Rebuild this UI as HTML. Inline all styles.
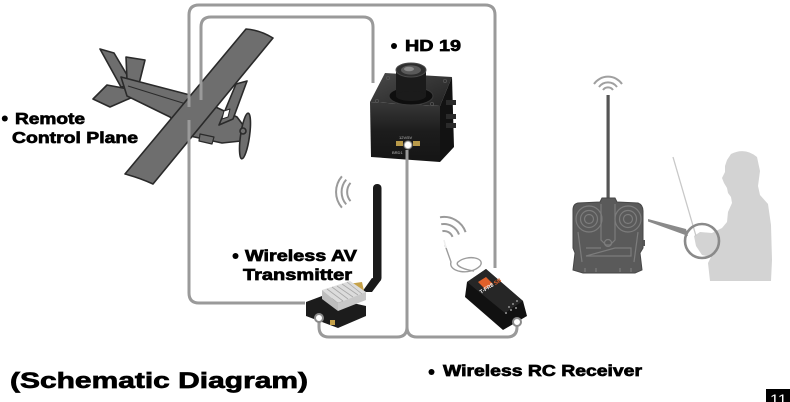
<!DOCTYPE html>
<html><head><meta charset="utf-8"><style>
html,body{margin:0;padding:0;background:#fff;}
svg{display:block;}
.t{font-family:"Liberation Sans",Arial,sans-serif;font-weight:bold;fill:#000;stroke:#000;stroke-width:0.7;}
</style></head><body>
<svg width="790" height="402" viewBox="0 0 790 402" xmlns="http://www.w3.org/2000/svg">
<rect width="790" height="402" fill="#fff"/>

<!-- ===== Plane ===== -->
<g stroke="#2a2a2a" stroke-width="1.6" stroke-linejoin="round" fill="#6e6e6e">
  <polygon points="93,99 107,85 128,89 133,97 110,107"/>
  <polygon points="100,49 114,53 133,85 121,87"/>
  <polygon points="126,57 145,60 139,84 127,80"/>
  <polygon points="121,77 190,95 237,117 243,125 241,141 222,143 190,136 170,117 127,96"/>
  <line x1="128" y1="86" x2="186" y2="104" stroke-width="1"/>
  <polygon points="236,84 247,81 233,119 219,125"/>
  <polygon points="224,111 230,109 228,117 222,119" fill="#fff" stroke-width="1"/>
  <polygon points="200,134 214,137 212,144 199,141" stroke-width="1.2"/>
  <path d="M246,29 Q260,30 273,38 L153,184 Q140,178 125,174 Z"/>
  <ellipse cx="245" cy="136" rx="4.5" ry="23" transform="rotate(8 245 136)"/>
  <circle cx="243" cy="131" r="3"/>
</g>

<!-- ===== Camera HD 19 ===== -->
<defs>
  <linearGradient id="cf" x1="0" y1="0" x2="0" y2="1">
    <stop offset="0" stop-color="#383838"/><stop offset="0.5" stop-color="#1c1c1c"/><stop offset="1" stop-color="#151515"/>
  </linearGradient>
  <linearGradient id="ct" x1="0" y1="0" x2="1" y2="1">
    <stop offset="0" stop-color="#4a4a4a"/><stop offset="1" stop-color="#222"/>
  </linearGradient>
  <radialGradient id="glow"><stop offset="0" stop-color="#fff"/><stop offset="0.55" stop-color="#fff"/><stop offset="1" stop-color="#fff" stop-opacity="0"/></radialGradient>
</defs>
<polygon points="370,102 385,73 452,77 440,106" fill="url(#ct)"/>
<polygon points="370,102 440,106 440,162 371,157" fill="url(#cf)"/>
<polygon points="440,106 452,77 454,147 440,162" fill="#121212"/>
<rect x="446" y="100" width="10" height="5" fill="#2a2a2a"/>
<rect x="446" y="114" width="10" height="5" fill="#2a2a2a"/>
<rect x="446" y="123" width="10" height="5" fill="#2a2a2a"/>
<circle cx="388" cy="78" r="1.6" fill="none" stroke="#555" stroke-width="0.8"/>
<circle cx="445" cy="81" r="1.6" fill="none" stroke="#555" stroke-width="0.8"/>
<circle cx="377" cy="101" r="1.6" fill="none" stroke="#555" stroke-width="0.8"/>
<circle cx="432" cy="104" r="1.6" fill="none" stroke="#555" stroke-width="0.8"/>
<ellipse cx="411" cy="96" rx="22" ry="9" fill="#0e0e0e" stroke="#3a3a3a" stroke-width="1"/>
<rect x="396" y="70" width="30" height="26" fill="#1b1b1b"/>
<ellipse cx="411" cy="96" rx="15" ry="5" fill="#1b1b1b"/>
<ellipse cx="411" cy="70" rx="15" ry="7" fill="#2e2e2e" stroke="#4a4a4a" stroke-width="1"/>
<ellipse cx="411" cy="70" rx="10" ry="4.6" fill="#5a5a5a"/>
<ellipse cx="409" cy="69" rx="5" ry="2.3" fill="#8a8a8a"/>
<rect x="396" y="141" width="7" height="5" fill="#b99a4a"/>
<rect x="413" y="141" width="7" height="5" fill="#b99a4a"/>
<text x="399" y="139" font-family="Liberation Sans, sans-serif" font-size="4" fill="#bbb">12V/5V</text>
<text x="392" y="154" font-family="Liberation Sans, sans-serif" font-size="4" fill="#bbb">BRD1</text>
<circle cx="408" cy="145" r="5" fill="url(#glow)"/>

<!-- ===== Wires ===== -->
<g fill="none" stroke="#9a9a9a" stroke-width="3">
  <path d="M189,107 L189,15 Q189,5 199,5 L485,5 Q495,5 495,15 L495,268"/>
  <path d="M189,120 L189,293 Q189,303 199,303 L305,303"/>
  <path d="M201,100 L201,27 Q201,17 211,17 L363,17 Q373,17 373,27 L373,83"/>
  <path d="M407,150 L407,327"/>
  <path d="M319,321 L319,327 Q319,337 329,337 L397,337 Q407,337 407,327"/>
  <path d="M407,327 Q407,337 417,337 L507,337 Q517,337 517,327 L517,325"/>
</g>

<!-- ===== Transmitter ===== -->
<g fill="none" stroke="#9a9a9a" stroke-width="2">
  <path d="M350.5,182.9 A14,14 0 0 0 350.5,201.1"/>
  <path d="M346.2,179.6 A19,19 0 0 0 346.2,204.4"/>
  <path d="M341.9,176.3 A24,24 0 0 0 341.9,207.7"/>
</g>
<rect x="373" y="184" width="8.5" height="98" rx="4" fill="#1a1a1a"/>
<polygon points="372,278 381,280 372,292 362,292" fill="#1a1a1a"/>
<polygon points="348,284 362,282 364,291 350,293" fill="#c6a24a"/>
<polygon points="306,302 322,296 366,306 366,316 338,328 306,316" fill="#1c1c1c"/>
<polygon points="322,290 350,281 366,292 338,303" fill="#dcdcdc"/>
<polygon points="322,290 338,303 338,311 322,299" fill="#bdbdbd"/>
<polygon points="338,303 366,292 366,300 338,311" fill="#c8c8c8"/>
<g stroke="#a8a8a8" stroke-width="0.8">
  <line x1="327" y1="289" x2="343" y2="301"/>
  <line x1="332" y1="287" x2="348" y2="299"/>
  <line x1="337" y1="286" x2="353" y2="297"/>
  <line x1="342" y1="284" x2="358" y2="295"/>
  <line x1="347" y1="282" x2="362" y2="294"/>
</g>
<rect x="330" y="320" width="5" height="5" fill="#c6a24a"/>
<circle cx="319" cy="318" r="4" fill="#fff" stroke="#8a8a8a" stroke-width="2"/>

<!-- ===== Receiver ===== -->
<g fill="none" stroke="#9a9a9a" stroke-width="2">
  <path d="M442.4,231.1 A9,9 0 0 1 452.5,236.9"/>
  <path d="M441.2,224.2 A16,16 0 0 1 459,234.5"/>
  <path d="M440,217.3 A23,23 0 0 1 465.6,232.1"/>
</g>
<path d="M445,245 L451,262 C448,272 470,276 480,266 C486,258 468,254 458,262 C454,266 466,270 474,271" fill="none" stroke="#9c9c9c" stroke-width="1.4"/>
<line x1="444" y1="240" x2="446" y2="248" stroke="#eee" stroke-width="1.5"/>
<polygon points="467,282 486,269 523,301 527,316 503,330 465,297" fill="#111"/>
<polygon points="467,282 486,269 523,301 505,313" fill="#262626"/>
<polygon points="478,282 486,277 493,284 485,289" fill="#e0602a"/>
<text x="0" y="0" transform="translate(481,294) rotate(-32)" font-family="Liberation Sans, sans-serif" font-weight="bold" font-size="5.5" fill="#eee">T-FR8 <tspan fill="#e0602a">SB</tspan></text>
<g fill="#777">
  <rect x="508" y="306" width="2" height="2"/><rect x="512" y="303" width="2" height="2"/><rect x="516" y="300" width="2" height="2"/>
  <rect x="505" y="312" width="2" height="2"/><rect x="510" y="309" width="2" height="2"/><rect x="515" y="307" width="2" height="2"/>
</g>
<circle cx="517" cy="322" r="4" fill="#fff" stroke="#8a8a8a" stroke-width="2"/>

<!-- ===== Remote controller ===== -->
<g fill="none" stroke="#a0a0a0" stroke-width="2">
  <path d="M603,90 A6,6 0 0 1 613,90"/>
  <path d="M599,87 A11,11 0 0 1 617,87"/>
  <path d="M594,84 A17,17 0 0 1 622,84"/>
</g>
<rect x="606.5" y="95" width="3.2" height="105" fill="#555"/>
<path d="M578,203 L600,202 L602,198 L615,198 L617,202 L638,203 Q643,205 643,211 L643,248 L640,253 L642,270 L635,273 L583,273 L573,270 L575,253 L573,248 L573,210 Q573,204 578,203 Z" fill="#5a5a5a" stroke="#474747" stroke-width="1"/>
<rect x="642" y="240" width="3" height="6" fill="#555"/>
<g fill="none" stroke="#7c7c7c" stroke-width="1.2">
  <circle cx="589" cy="219" r="13"/><circle cx="589" cy="219" r="8.5"/><circle cx="589" cy="219" r="4.5"/>
  <circle cx="628" cy="219" r="13"/><circle cx="628" cy="219" r="8.5"/><circle cx="628" cy="219" r="4.5"/>
  <path d="M601,204 L601,240 L606,245 L610,245 L615,240 L615,204"/>
  <circle cx="608" cy="243" r="3.5"/>
  <path d="M586,248 L601,248 M615,248 L631,248 L631,256 L586,256 Z"/>
  <path d="M578,232 L582,262 M638,232 L634,262"/>
  <path d="M585,268 L585,272 M596,268 L596,272 M620,268 L620,272 M631,268 L631,272"/>
</g>

<!-- ===== Person ===== -->
<path d="M727,160 L731,154 Q745,147 757,157 L760,171 L758,186 L760,195 L768,204 L771,225 L772,260 L771,281 L710,281 L708,263 L711,257 L702,255 L696,246 L694,236 L700,232 L712,233 L722,228 L727,222 L728,212 L732,203 L731,197 L728,193 L727,188 L724,183 L722,178 L725,172 L725,166 Z" fill="#d3d3d3"/>
<line x1="673" y1="157" x2="696" y2="236" stroke="#c8c8c8" stroke-width="1.3"/>
<polygon points="648,219 686,229 688,236 648,221.5" fill="#8a8a8a"/>
<circle cx="702" cy="241" r="17" fill="none" stroke="#8a8a8a" stroke-width="2.6"/>

<!-- ===== Labels ===== -->
<circle cx="4.8" cy="118.5" r="3" fill="#000"/>
<text class="t" x="15" y="124" font-size="16" textLength="70" lengthAdjust="spacingAndGlyphs">Remote</text>
<text class="t" x="12" y="143" font-size="16" textLength="126" lengthAdjust="spacingAndGlyphs">Control Plane</text>

<circle cx="394" cy="46" r="3" fill="#000"/>
<text class="t" x="405" y="51" font-size="16" textLength="56" lengthAdjust="spacingAndGlyphs">HD 19</text>

<circle cx="235.5" cy="256" r="3" fill="#000"/>
<text class="t" x="245" y="261" font-size="16" textLength="112" lengthAdjust="spacingAndGlyphs">Wireless AV</text>
<text class="t" x="243" y="280" font-size="16" textLength="109" lengthAdjust="spacingAndGlyphs">Transmitter</text>

<circle cx="431.5" cy="372" r="3" fill="#000"/>
<text class="t" x="443" y="376" font-size="15.5" textLength="199" lengthAdjust="spacingAndGlyphs">Wireless RC Receiver</text>

<text class="t" x="10" y="388" font-size="22.5" stroke-width="0.9" textLength="298" lengthAdjust="spacingAndGlyphs">(Schematic Diagram)</text>

<rect x="766" y="389" width="24" height="13" fill="#000"/>
<text x="770" y="404" font-family="Liberation Sans, sans-serif" font-size="14" fill="#fff" textLength="17" lengthAdjust="spacingAndGlyphs">11</text>
</svg>
</body></html>
